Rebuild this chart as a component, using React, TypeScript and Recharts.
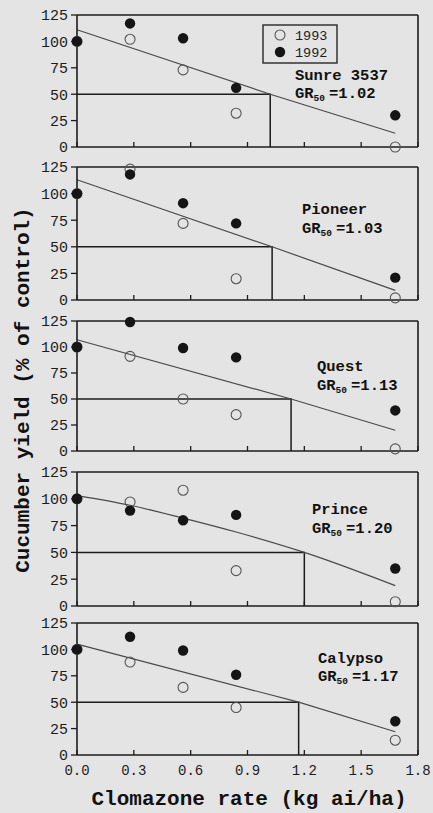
import React from 'react';
import { ComposedChart, Scatter, Line, XAxis, YAxis } from 'recharts';

// Clomazone rates applied (kg ai/ha)
const rates = [0, 0.28, 0.56, 0.84, 1.68];
const xTicks = [0, 0.3, 0.6, 0.9, 1.2, 1.5, 1.8];
const yTicks = [0, 25, 50, 75, 100, 125];

const cultivars = ['Sunre 3537', 'Pioneer', 'Quest', 'Prince', 'Calypso'];
const gr50 = [1.02, 1.03, 1.13, 1.2, 1.17];

// yield, % of control, one row per cultivar
const yield1993 = [
  [100, 102, 73, 32, 0],
  [100, 123, 72, 20, 2],
  [100, 91, 50, 35, 2],
  [100, 97, 108, 33, 4],
  [100, 88, 64, 45, 14],
];
const yield1992 = [
  [100, 117, 103, 56, 30],
  [100, 118, 91, 72, 21],
  [100, 124, 99, 90, 39],
  [100, 89, 80, 85, 35],
  [100, 112, 99, 76, 32],
];

// fitted response line
const fitX = [
  [0, 1.02, 1.68],
  [0, 1.03, 1.68],
  [0, 1.13, 1.68],
  [0, 0.28, 0.56, 0.84, 1.2, 1.68],
  [0, 1.17, 1.68],
];
const fitY = [
  [111, 50, 13],
  [113, 50, 9],
  [107, 50, 20],
  [103, 94, 82, 69, 50, 19],
  [105, 50, 22],
];

// layout (pixels)
const panelTop = [15, 167, 321, 472, 623];
const panelBottom = [147, 300, 451, 606, 755];
const labelPos = [
  [295, 80, 98],
  [302, 214, 233],
  [317, 371, 390],
  [312, 514, 533],
  [318, 663, 681],
];

const INK = '#1c1c1c';
const BG = '#e4e4e4';
const MONO = '"Liberation Mono", "DejaVu Sans Mono", monospace';

const TopTick = (p: any) => (
  <line x1={p.x} y1={p.y} x2={p.x} y2={p.y + 5} stroke={INK} strokeWidth={1.3} />
);

const RightTick = (p: any) => (
  <line x1={p.x} y1={p.y} x2={p.x - 5} y2={p.y} stroke={INK} strokeWidth={1.3} />
);

const BottomTick = (p: any) => (
  <g>
    <line x1={p.x} y1={p.y} x2={p.x} y2={p.y - 5} stroke={INK} strokeWidth={1.3} />
    {p.showLabel && (
      <text x={p.x} y={p.y + 20} textAnchor="middle" fontFamily={MONO} fontSize={14} fill={INK}>
        {p.payload.value.toFixed(1)}
      </text>
    )}
  </g>
);

const openDot = (p: any) => (
  <circle cx={p.cx} cy={p.cy} r={5} fill="none" stroke="#555" strokeWidth={1.1} />
);
const filledDot = (p: any) => <circle cx={p.cx} cy={p.cy} r={5.2} fill="#151515" />;

const Panel = ({ idx }: { idx: number }) => {
  const last = idx === cultivars.length - 1;
  const top = panelTop[idx];
  const plotH = panelBottom[idx] - top;
  const bottomH = last ? 30 : 10;

  const open = rates.map((x, i) => ({ x, y: yield1993[idx][i] }));
  const filled = rates.map((x, i) => ({ x, y: yield1992[idx][i] }));
  const fit = fitX[idx].map((x, i) => ({ x, y: fitY[idx][i] }));
  const drop = [
    { x: 0, y: 50 },
    { x: gr50[idx], y: 50 },
    { x: gr50[idx], y: 0 },
  ];

  return (
    <div style={{ position: 'absolute', left: 0, top: top - 10 }}>
      <ComposedChart
        width={433}
        height={10 + plotH + bottomH}
        margin={{ top: 0, right: 0, bottom: 0, left: 0 }}
      >
        <XAxis
          xAxisId="top"
          orientation="top"
          type="number"
          domain={[0, 1.8]}
          ticks={xTicks}
          interval={0}
          height={10}
          tickSize={0}
          tickMargin={0}
          tick={TopTick}
          axisLine={{ stroke: INK, strokeWidth: 1.6 }}
        />
        <XAxis
          dataKey="x"
          type="number"
          domain={[0, 1.8]}
          ticks={xTicks}
          interval={0}
          height={bottomH}
          tickSize={0}
          tickMargin={0}
          tick={(p: any) => <BottomTick {...p} showLabel={last} />}
          axisLine={{ stroke: INK, strokeWidth: 1.6 }}
        />
        <YAxis
          dataKey="y"
          type="number"
          domain={[0, 125]}
          ticks={yTicks}
          interval={0}
          width={77}
          tickSize={6}
          tickMargin={3}
          tick={{ fontFamily: MONO, fontSize: 15, fill: INK }}
          tickLine={{ stroke: INK, strokeWidth: 1.3 }}
          axisLine={{ stroke: INK, strokeWidth: 1.6 }}
        />
        <YAxis
          yAxisId="r"
          orientation="right"
          type="number"
          domain={[0, 125]}
          ticks={yTicks}
          interval={0}
          width={15}
          tickSize={0}
          tickMargin={0}
          tick={RightTick}
          axisLine={{ stroke: INK, strokeWidth: 1.6 }}
        />
        <Line
          data={drop}
          dataKey="y"
          type="linear"
          stroke={INK}
          strokeWidth={1.5}
          dot={false}
          isAnimationActive={false}
        />
        <Line
          data={fit}
          dataKey="y"
          type={fitX[idx].length > 3 ? 'monotone' : 'linear'}
          stroke="#4a4a4a"
          strokeWidth={1.2}
          dot={false}
          isAnimationActive={false}
        />
        <Scatter data={open} shape={openDot} isAnimationActive={false} />
        <Scatter data={filled} shape={filledDot} isAnimationActive={false} />
      </ComposedChart>
    </div>
  );
};

export default function App() {
  return (
    <div
      style={{
        position: 'absolute',
        left: 0,
        top: 0,
        width: 433,
        height: 813,
        background: BG,
        overflow: 'hidden',
      }}
    >
      {cultivars.map((_, i) => (
        <Panel key={i} idx={i} />
      ))}
      <svg
        width={433}
        height={813}
        style={{ position: 'absolute', left: 0, top: 0, pointerEvents: 'none' }}
      >
        {/* legend */}
        <rect x={263} y={25} width={74} height={38} fill="none" stroke="#333" strokeWidth={1.5} />
        <circle cx={280} cy={35} r={5} fill="none" stroke="#555" strokeWidth={1.1} />
        <circle cx={280} cy={52} r={5.2} fill="#151515" />
        <text x={295} y={39.5} fontFamily={MONO} fontSize={13.5} fill={INK}>1993</text>
        <text x={295} y={56.5} fontFamily={MONO} fontSize={13.5} fill={INK}>1992</text>

        {cultivars.map((name, i) => (
          <g key={name} fontFamily={MONO} fontWeight="bold" fill="#111">
            <text x={labelPos[i][0]} y={labelPos[i][1]} fontSize={15.5}>{name}</text>
            <text x={labelPos[i][0]} y={labelPos[i][2]} fontSize={15.5}>
              GR
              <tspan fontSize={9.5} dy={3}>50</tspan>
              <tspan dx={4} dy={-3}>={gr50[i].toFixed(2)}</tspan>
            </text>
          </g>
        ))}

        <text
          x={22}
          y={390}
          transform="rotate(-90 22 390)"
          textAnchor="middle"
          dy="0.35em"
          fontFamily={MONO}
          fontWeight="bold"
          fontSize={21}
          fill="#111"
        >
          Cucumber yield (% of control)
        </text>
        <text
          x={249}
          y={805}
          textAnchor="middle"
          fontFamily={MONO}
          fontWeight="bold"
          fontSize={21}
          fill="#111"
        >
          Clomazone rate (kg ai/ha)
        </text>
      </svg>
    </div>
  );
}
